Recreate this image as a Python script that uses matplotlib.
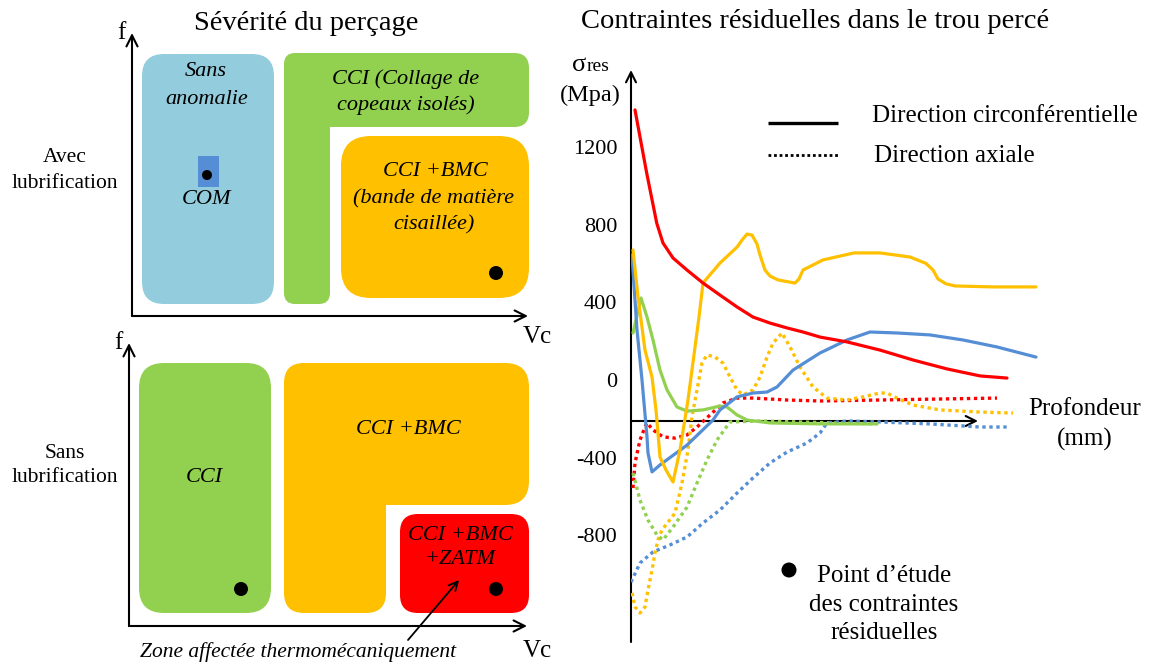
import matplotlib
matplotlib.use("Agg")
import matplotlib.pyplot as plt
from matplotlib.patches import FancyBboxPatch, Rectangle, Circle

plt.rcParams['font.family'] = ['Liberation Serif', 'DejaVu Serif']

# ---- Residual stress profiles: depth (arbitrary mm scale) and stress (MPa) ----
red_circ_depth = [0.04, 0.157, 0.257, 0.32, 0.42, 0.56, 0.72, 0.89, 1.06, 1.22, 1.39, 1.56, 1.72,
                  1.89, 2.16, 2.49, 2.82, 3.16, 3.49, 3.76]
red_circ_stress = [1390, 1065, 808, 705, 628, 566, 499, 437, 376, 324, 293, 268, 247,
                   221, 196, 154, 103, 57, 21, 10]

yellow_circ_depth = [0.02, 0.07, 0.14, 0.21, 0.25, 0.29, 0.35, 0.42, 0.49, 0.57, 0.68, 0.72, 0.89,
                     1.06, 1.11, 1.16, 1.21, 1.26, 1.29, 1.34, 1.39, 1.47, 1.64, 1.68, 1.72,
                     1.92, 2.23, 2.49, 2.79, 2.95, 3.02, 3.07, 3.15, 3.24, 3.62, 4.05]
yellow_circ_stress = [669, 427, 154, 15, -154, -396, -463, -525, -360, -103, 324, 499, 602,
                      684, 720, 751, 746, 700, 643, 566, 535, 515, 499, 520, 566,
                      618, 654, 654, 633, 600, 566, 520, 495, 484, 479, 479]

green_circ_depth = [0.02, 0.10, 0.16, 0.22, 0.29, 0.36, 0.46, 0.56, 0.72, 0.89, 0.96, 1.06, 1.16,
                    1.39, 1.89, 2.46]
green_circ_stress = [242, 422, 324, 206, 51, -51, -139, -160, -154, -134, -139, -180, -206,
                     -221, -226, -226]

blue_circ_depth = [0.01, 0.06, 0.11, 0.16, 0.17, 0.21, 0.29, 0.56, 0.82, 0.89, 1.06, 1.22, 1.36,
                   1.46, 1.62, 1.89, 2.16, 2.39, 2.66, 2.99, 3.32, 3.66, 4.05]
blue_circ_stress = [643, 257, 0, -293, -376, -473, -437, -335, -206, -154, -87, -67, -62,
                    -36, 51, 139, 206, 247, 242, 232, 206, 170, 118]

red_axial_depth = [0.02, 0.04, 0.09, 0.14, 0.16, 0.22, 0.32, 0.44, 0.56, 0.66, 0.79, 0.92, 1.06,
                   1.22, 1.56, 1.89, 3.66]
red_axial_stress = [-556, -427, -309, -242, -221, -257, -293, -299, -283, -242, -180, -118, -93,
                    -93, -103, -108, -93]

yellow_axial_depth = [0.01, 0.04, 0.09, 0.14, 0.17, 0.21, 0.24, 0.27, 0.31, 0.44, 0.51, 0.57, 0.61,
                      0.66, 0.71, 0.76, 0.84, 0.92, 0.99, 1.06, 1.12, 1.22, 1.29, 1.36, 1.42,
                      1.51, 1.59, 1.69, 1.82, 1.96, 2.16, 2.32, 2.49, 2.56, 2.66, 2.82, 3.09,
                      3.49, 3.82]
yellow_axial_stress = [-1096, -1168, -1199, -1168, -1081, -978, -890, -823, -772, -685, -530, -360, -190,
                       -51, 87, 129, 118, 87, 15, -51, -77, -51, 15, 118, 190,
                       242, 170, 67, -36, -93, -103, -87, -67, -67, -93, -129, -154,
                       -165, -170]

green_axial_depth = [0.02, 0.09, 0.17, 0.26, 0.32, 0.42, 0.56, 0.66, 0.76, 0.86, 0.99, 1.29, 2.46]
green_axial_stress = [-479, -618, -721, -798, -823, -757, -654, -530, -412, -309, -216, -211, -226]

blue_axial_depth = [0.0, 0.09, 0.22, 0.39, 0.56, 0.72, 0.89, 1.06, 1.22, 1.39, 1.56, 1.76, 1.89,
                    1.96, 2.16, 2.49, 2.99, 3.49, 3.79]
blue_axial_stress = [-1040, -942, -885, -849, -808, -736, -669, -582, -504, -427, -371, -324, -273,
                     -221, -211, -216, -226, -242, -242]

stress_ticks = [1200, 800, 400, 0, -400, -800]

C_RED = '#FF0000'
C_YEL = '#FFC000'
C_GRN = '#92D050'
C_BLU = '#558ED5'
C_LBLU = '#93CDDD'

fig = plt.figure(figsize=(11.51, 6.64), dpi=100)

# Canvas axes in pixel units for the severity diagrams
ax0 = fig.add_axes([0, 0, 1, 1])
ax0.set_xlim(0, 1151)
ax0.set_ylim(664, 0)
ax0.axis('off')


def rbox(x0, y0, x1, y1, r, color):
    ax0.add_patch(FancyBboxPatch((x0 + r, y0 + r), (x1 - x0) - 2 * r, (y1 - y0) - 2 * r,
                                 boxstyle=f"round,pad={r},rounding_size={r}",
                                 fc=color, ec='none', lw=0))


def arrow(x0, y0, x1, y1, lw=1.5, ms=20):
    ax0.annotate('', xy=(x1, y1), xytext=(x0, y0),
                 arrowprops=dict(arrowstyle='->', lw=lw, color='black',
                                 mutation_scale=ms, shrinkA=0, shrinkB=0))


def label(x, y, s, size=16, italic=False, ha='center'):
    ax0.text(x, y, s, ha=ha, va='center', fontsize=size,
             style='italic' if italic else 'normal', color='black')


# ---- Top diagram: with lubrication ----
label(306, 24, "Sévérité du perçage", size=20.5)
arrow(132, 316, 528, 316)
arrow(132, 316, 132, 33)
label(121, 33, "f", size=18)
label(537, 337, "Vc", size=18)
label(65, 158, "Avec", size=15.5)
label(65, 183, "lubrification", size=15.5)

rbox(142, 54, 274, 304, 22, C_LBLU)
ax0.add_patch(Rectangle((198, 156), 21, 31, fc=C_BLU, ec='none'))
ax0.add_patch(Circle((207, 175), 5, fc='black', ec='none'))
label(206, 72, "Sans", italic=True)
label(207, 99, "anomalie", italic=True)
label(207, 199, "COM", italic=True)

rbox(284, 53, 529, 127, 15, C_GRN)
rbox(284, 53, 330, 304, 11, C_GRN)
label(406, 79, "CCI (Collage de", italic=True)
label(406, 105, "copeaux isolés)", italic=True)

rbox(341, 136, 529, 298, 30, C_YEL)
label(435, 172, "CCI +BMC", italic=True)
label(434, 199, "(bande de matière", italic=True)
label(434, 225, "cisaillée)", italic=True)
ax0.add_patch(Circle((496, 273), 7, fc='black', ec='none'))

# ---- Bottom diagram: without lubrication ----
arrow(129, 626, 527, 626)
arrow(129, 626, 129, 343)
label(118, 343, "f", size=18)
label(537, 651, "Vc", size=18)
label(65, 453, "Sans", size=15.5)
label(65, 478, "lubrification", size=15.5)

rbox(139, 363, 271, 613, 25, C_GRN)
label(204, 478, "CCI", italic=True)
ax0.add_patch(Circle((241, 589), 7, fc='black', ec='none'))

rbox(284, 363, 529, 505, 24, C_YEL)
rbox(284, 363, 386, 613, 20, C_YEL)
label(408, 429, "CCI +BMC", italic=True)

rbox(400, 514, 529, 613, 18, C_RED)
label(460, 535, "CCI +BMC", italic=True)
label(460, 560, "+ZATM", italic=True)
ax0.add_patch(Circle((496, 589), 7, fc='black', ec='none'))

arrow(408, 640, 459, 580, lw=1.3, ms=16)
label(298, 652, "Zone affectée thermomécaniquement", size=15.5, italic=True)

# ---- Right chart: residual stresses along the hole ----
label(815, 22, "Contraintes résiduelles dans le trou percé", size=20.5)
arrow(631, 421, 978, 421, lw=1.5, ms=18)
arrow(631, 642, 631, 70, lw=1.5, ms=18)
ax0.text(572, 71, "σ", ha='left', va='baseline', fontsize=19)
ax0.text(587, 71, "res", ha='left', va='baseline', fontsize=14)
label(590, 95, "(Mpa)", size=17.5)
label(1085, 409, "Profondeur", size=18)
label(1085, 439, "(mm)", size=18)

# legend for line styles
ax0.plot([768, 838], [123, 123], color='black', lw=2.4, solid_capstyle='butt')
ax0.plot([768, 840], [155, 155], color='black', lw=2.0, linestyle=(0, (1, 1)), dash_capstyle='butt')
label(872, 116, "Direction circonférentielle", size=18, ha='left')
label(874, 156, "Direction axiale", size=18, ha='left')

ax0.add_patch(Circle((789, 570), 7.5, fc='black', ec='none'))
label(884, 576, "Point d’étude", size=18)
label(884, 605, "des contraintes", size=18)
label(884, 633, "résiduelles", size=18)

ax1 = fig.add_axes([631 / 1151, 0, 520 / 1151, 1])
ax1.set_xlim(0, 5.2)
ax1.set_ylim((380 - 664) / 0.1943, 380 / 0.1943)
ax1.patch.set_alpha(0)
for sp in ax1.spines.values():
    sp.set_visible(False)
ax1.set_xticks([])
ax1.set_yticks(stress_ticks)
ax1.set_yticklabels([str(t) for t in stress_ticks])
ax1.tick_params(axis='y', length=0, pad=10, labelsize=16)

solid = dict(lw=2.3, solid_capstyle='round', solid_joinstyle='round')
dotted = dict(lw=2.4, linestyle=(0, (1, 1.1)), dash_capstyle='butt')

ax1.plot(red_axial_depth, red_axial_stress, color=C_RED, **dotted)
ax1.plot(yellow_axial_depth, yellow_axial_stress, color=C_YEL, **dotted)
ax1.plot(green_axial_depth, green_axial_stress, color=C_GRN, **dotted)
ax1.plot(blue_axial_depth, blue_axial_stress, color=C_BLU, **dotted)
ax1.plot(green_circ_depth, green_circ_stress, color=C_GRN, **solid)
ax1.plot(blue_circ_depth, blue_circ_stress, color=C_BLU, **solid)
ax1.plot(yellow_circ_depth, yellow_circ_stress, color=C_YEL, **solid)
ax1.plot(red_circ_depth, red_circ_stress, color=C_RED, **solid)

fig.savefig("out.png", dpi=100)
